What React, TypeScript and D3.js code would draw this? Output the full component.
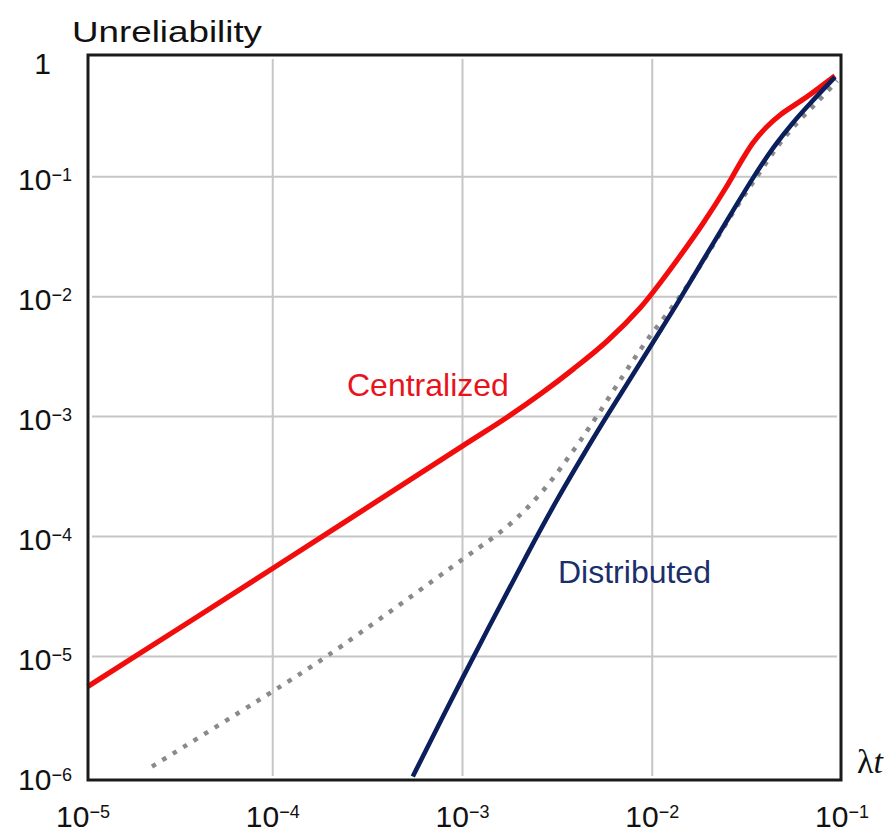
import React from "react";
import * as d3 from "d3";

// ---- Data ----
const xTickValues = [1e-5, 1e-4, 1e-3, 1e-2, 1e-1];
const xTickExponents = ["−5", "−4", "−3", "−2", "−1"];
const yTickValues = [1e-6, 1e-5, 1e-4, 1e-3, 1e-2, 1e-1, 1];
const yTickExponents = ["−6", "−5", "−4", "−3", "−2", "−1", ""];

const centralizedT = [1.06e-5, 1e-4, 1e-3, 1.74e-3, 2.58e-3, 3.85e-3, 5.79e-3, 8.67e-3, 1.12e-2, 1.41e-2, 1.85e-2, 2.47e-2, 2.9e-2, 3.39e-2, 3.98e-2, 4.72e-2, 6.52e-2, 9.18e-2];
const centralizedU = [5.62e-6, 5.43e-5, 5.69e-4, 1.0e-3, 1.545e-3, 2.5e-3, 4.27e-3, 8.13e-3, 1.35e-2, 2.21e-2, 4.07e-2, 8.32e-2, 0.129, 0.191, 0.257, 0.327, 0.462, 0.692];

const distributedT = [5.47e-4, 1e-3, 2.19e-3, 3.16e-3, 4.37e-3, 5.79e-3, 7.69e-3, 1.02e-2, 1.35e-2, 1.85e-2, 2.58e-2, 3.4e-2, 4.34e-2, 5.52e-2, 7.03e-2, 9.18e-2];
const distributedU = [1e-6, 6.61e-6, 7.08e-5, 2.04e-4, 4.9e-4, 1.02e-3, 2.09e-3, 4.27e-3, 8.71e-3, 2.0e-2, 4.79e-2, 9.77e-2, 0.174, 0.282, 0.432, 0.676];

const referenceT = [2.31e-5, 1e-4, 1.95e-4, 1.02e-3, 1.74e-3, 2.58e-3, 3.89e-3, 5.13e-3, 7.08e-3, 9.42e-3, 1.41e-2, 1.93e-2, 2.69e-2, 3.59e-2, 4.62e-2, 5.89e-2, 7.5e-2, 9.44e-2];
const referenceU = [1.21e-6, 5.13e-6, 1.02e-5, 6.61e-5, 1.23e-4, 2.29e-4, 5.37e-4, 1.02e-3, 2.24e-3, 4.37e-3, 1.02e-2, 2.19e-2, 5.13e-2, 0.102, 0.182, 0.288, 0.427, 0.631];

// ---- Layout ----
const W = 896;
const H = 834;
const frame = { left: 88, right: 841, top: 55, bottom: 780 };
const FONT = "'Liberation Sans', Arial, Helvetica, sans-serif";

const x = d3.scaleLog().domain([1e-5, 1e-1]).range([83, 842]);
const y = d3.scaleLog().domain([1e-6, 1]).range([776.5, 56.7]);

const lineGen = d3
  .line<[number, number]>()
  .x((d) => x(d[0]))
  .y((d) => y(d[1]))
  .curve(d3.curveCatmullRom.alpha(0.5));

const zip = (a: number[], b: number[]) => a.map((v, i) => [v, b[i]] as [number, number]);

export default function App() {
  const gridX = xTickValues.filter((v) => x(v) > frame.left + 5 && x(v) < frame.right - 5);
  const gridY = yTickValues.filter((v) => y(v) > frame.top + 5 && y(v) < frame.bottom - 5);

  return (
    <svg
      width={W}
      height={H}
      viewBox={`0 0 ${W} ${H}`}
      style={{ position: "absolute", left: 0, top: 0, display: "block", background: "#fff" }}
    >
      <rect x={0} y={0} width={W} height={H} fill="#fff" />
      {/* grid */}
      <g stroke="#c6c6c6" strokeWidth={2}>
        {gridX.map((v, i) => (
          <line key={"gx" + i} x1={x(v)} x2={x(v)} y1={frame.top + 4} y2={frame.bottom - 4} />
        ))}
        {gridY.map((v, i) => (
          <line key={"gy" + i} x1={frame.left + 4} x2={frame.right - 4} y1={y(v)} y2={y(v)} />
        ))}
      </g>

      {/* curves */}
      <path d={lineGen(zip(centralizedT, centralizedU)) || ""} fill="none" stroke="#f20d0d" strokeWidth={5.2} strokeLinejoin="round" />
      <path
        d={lineGen(zip(referenceT, referenceU)) || ""}
        fill="none"
        stroke="#8a8a8a"
        strokeWidth={4.5}
        strokeDasharray="4.5 7.8"
      />
      <path d={lineGen(zip(distributedT, distributedU)) || ""} fill="none" stroke="#0b1f5c" strokeWidth={4.6} strokeLinejoin="round" />

      {/* frame */}
      <rect
        x={frame.left}
        y={frame.top}
        width={frame.right - frame.left}
        height={frame.bottom - frame.top}
        fill="none"
        stroke="#1a1a1a"
        strokeWidth={3}
      />

      {/* y tick labels */}
      <g fontFamily={FONT} fill="#111">
        {yTickValues.map((v, i) =>
          yTickExponents[i] ? (
            <text key={"yl" + i} x={72} y={y(v) + 13.5} textAnchor="end" fontSize={30}>
              10
              <tspan fontSize={18} dy={-9}>
                {yTickExponents[i]}
              </tspan>
            </text>
          ) : (
            <text key={"yl" + i} x={51} y={y(v) + 17} textAnchor="end" fontSize={30}>
              1
            </text>
          )
        )}
      </g>

      {/* x tick labels */}
      <g fontFamily={FONT} fill="#111">
        {xTickValues.map((v, i) => (
          <text key={"xl" + i} x={x(v)} y={827} textAnchor="middle" fontSize={30}>
            10
            <tspan fontSize={18} dy={-9}>
              {xTickExponents[i]}
            </tspan>
          </text>
        ))}
      </g>

      {/* axis titles */}
      <text x={72} y={41.5} fontFamily={FONT} fontSize={30} fill="#111" textLength={190} lengthAdjust="spacingAndGlyphs">
        Unreliability
      </text>
      <text x={857} y={773} fontFamily="'Liberation Serif', 'Times New Roman', serif" fontSize={34} fill="#111">
        λ<tspan fontStyle="italic">t</tspan>
      </text>

      {/* series labels */}
      <text x={347} y={396} fontFamily={FONT} fontSize={32} fill="#e8131c">
        Centralized
      </text>
      <text x={558} y={583} fontFamily={FONT} fontSize={32} fill="#1b2f6b">
        Distributed
      </text>
    </svg>
  );
}
